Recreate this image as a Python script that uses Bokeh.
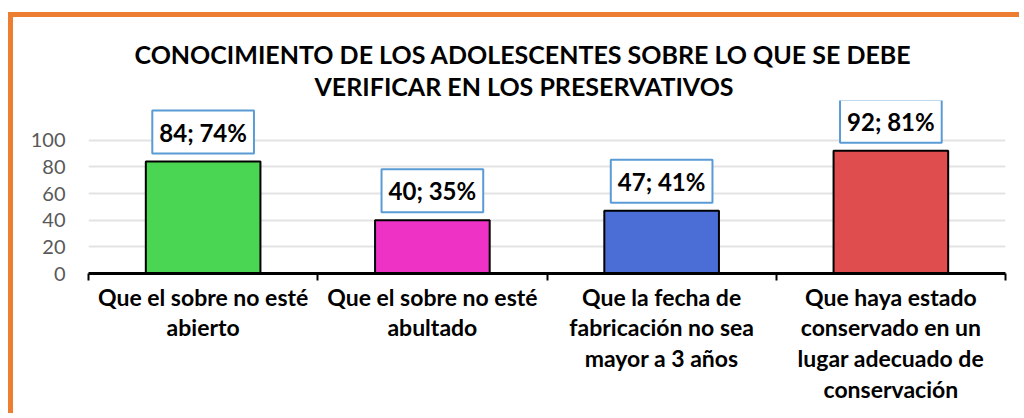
from bokeh.plotting import figure
from bokeh.models import Range1d, FixedTicker, Label, Title
from bokeh.embed import file_html
from bokeh.resources import INLINE

categories = [
    "Que el sobre no esté\nabierto",
    "Que el sobre no esté\nabultado",
    "Que la fecha de\nfabricación no sea\nmayor a 3 años",
    "Que haya estado\nconservado en un\nlugar adecuado de\nconservación",
]
counts = [84, 40, 47, 92]
percents = [74, 35, 41, 81]
colors = ["#4AD552", "#EE32C6", "#4A6ED6", "#E04D4E"]
title_lines = [
    "CONOCIMIENTO DE LOS ADOLESCENTES SOBRE LO QUE SE DEBE",
    "VERIFICAR EN LOS PRESERVATIVOS",
]
y_ticks = [0, 20, 40, 60, 80, 100]

FONT = "Lato"
W, H = 1011, 401
n = len(categories)
xs = [i + 0.5 for i in range(n)]

p = figure(width=W, height=H, x_range=Range1d(0, n), y_range=Range1d(0, 129.75),
           output_backend="svg", toolbar_location=None,
           min_border_left=75, min_border_right=19, min_border_top=83,
           min_border_bottom=145)
p.styles = {"margin-left": "8px", "margin-top": "12px",
            "border-left": "5px solid #ED7D31",
            "border-top": "5px solid #ED7D31"}
p.title.visible = False
p.outline_line_color = None
p.background_fill_color = "white"
p.border_fill_color = "white"

p.vbar(x=xs, top=counts, width=0.5, fill_color=colors, line_color="black",
       line_width=2)

# x axis
xa = p.xaxis[0]
xa.ticker = FixedTicker(ticks=xs, minor_ticks=list(range(n + 1)))
xa.major_label_overrides = {x: c for x, c in zip(xs, categories)}
xa.major_tick_line_color = None
xa.major_tick_out = 7
xa.major_tick_in = 0
xa.minor_tick_line_color = "black"
xa.minor_tick_line_width = 2
xa.minor_tick_out = 7
xa.minor_tick_in = 0
xa.axis_line_color = "black"
xa.axis_line_width = 3
xa.major_label_standoff = 2
xa.major_label_text_font = FONT
xa.major_label_text_font_style = "bold"
xa.major_label_text_font_size = "23px"
xa.major_label_text_line_height = 1.1
xa.major_label_text_color = "black"

# y axis
ya = p.yaxis[0]
ya.ticker = FixedTicker(ticks=y_ticks)
ya.axis_line_color = None
ya.major_tick_line_color = None
ya.minor_tick_line_color = None
ya.major_label_standoff = 17
ya.major_label_text_font = FONT
ya.major_label_text_font_size = "20px"
ya.major_label_text_color = "#595959"

p.xgrid.grid_line_color = None
p.ygrid.ticker = FixedTicker(ticks=y_ticks)
p.ygrid.grid_line_color = "#E3E3E3"
p.ygrid.grid_line_width = 2

for x, c, pc in zip(xs, counts, percents):
    p.add_layout(Label(x=x, y=c, y_offset=8, text=f"{c}; {pc}%",
                       text_align="center", text_baseline="bottom",
                       text_font=FONT, text_font_style="bold",
                       text_font_size="24px", text_color="black",
                       background_fill_color="white",
                       border_line_color="#5B9BD5", border_line_width=2,
                       padding=7))

# title lines: first added sits nearest the plot
p.add_layout(Title(text=title_lines[1], align="left", offset=226,
                   standoff=0, text_font=FONT, text_font_style="bold",
                   text_font_size="25px", text_color="black"), "above")
p.add_layout(Title(text=title_lines[0], align="left", offset=46,
                   standoff=0, text_font=FONT, text_font_style="bold",
                   text_font_size="25px", text_color="black"), "above")

open("out.html", "w").write(file_html(p, INLINE))
